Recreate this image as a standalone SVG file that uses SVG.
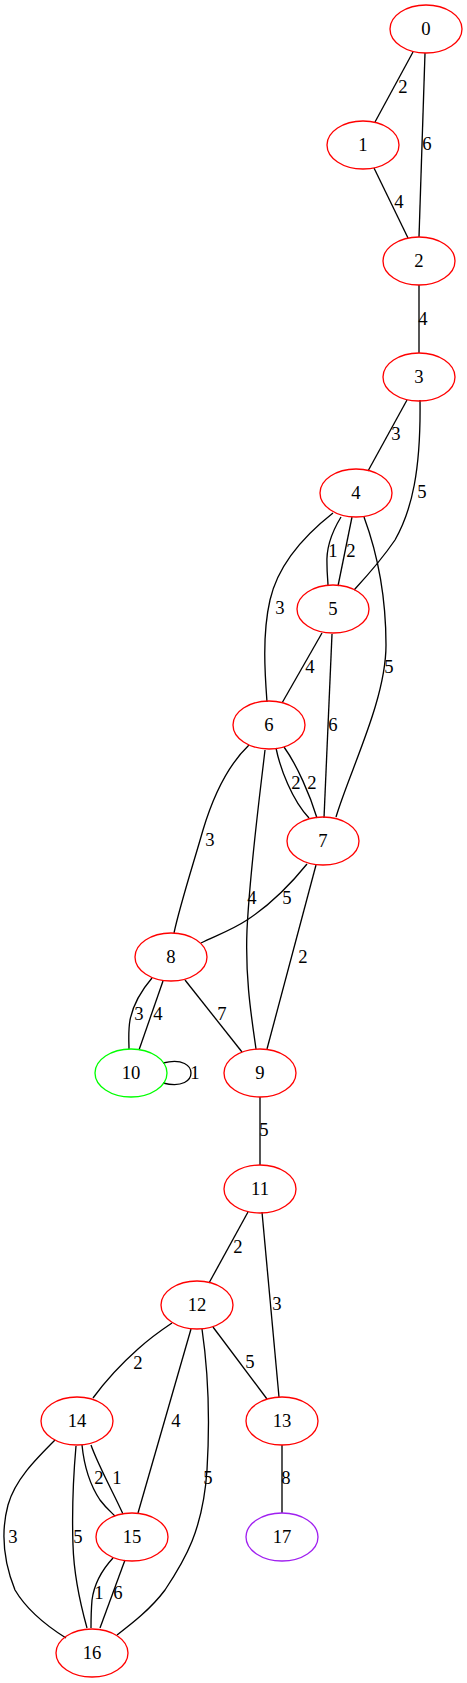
<svg xmlns="http://www.w3.org/2000/svg" width="467" height="1683" viewBox="0 0 467 1683">
<style>
.e{fill:none;stroke:#000;stroke-width:1.33}
.n{fill:none;stroke:#ff0000;stroke-width:1.33}
text{font-family:"Liberation Serif","Times New Roman",serif;font-size:18.67px;text-anchor:middle;fill:#000}
</style>
<rect width="467" height="1683" fill="#fff"/>
<g id="edges">
<path class="e" d="M413,52 L375,122"/><text x="403" y="93">2</text>
<path class="e" d="M425,53 L419,237"/><text x="427" y="150">6</text>
<path class="e" d="M374,168 L408,238"/><text x="399" y="208">4</text>
<path class="e" d="M419,285 L419,353"/><text x="423" y="325">4</text>
<path class="e" d="M407,400 L368,471"/><text x="396" y="440">3</text>
<path class="e" d="M420,400 C421,470 412,510 395,540 C380,562 366,577 354,590"/><text x="422" y="498">5</text>
<path class="e" d="M341,517 C330,535 326,550 327,565 C327,575 328,580 328,586"/><text x="333" y="557">1</text>
<path class="e" d="M352,517 L338,586"/><text x="351" y="557">2</text>
<path class="e" d="M333,513 C305,535 278,565 270,600 C262,635 265,675 267,702"/><text x="280" y="614">3</text>
<path class="e" d="M364,517 C378,555 386,600 386,645 C386,700 350,770 336,817"/><text x="389" y="673">5</text>
<path class="e" d="M322,633 L282,703"/><text x="310" y="673">4</text>
<path class="e" d="M332,634 L324,818"/><text x="333" y="731">6</text>
<path class="e" d="M276,748 C280,768 292,800 309,818"/><text x="296" y="789">2</text>
<path class="e" d="M284,747 C297,765 310,795 317,818"/><text x="312" y="789">2</text>
<path class="e" d="M249,745 C225,768 212,800 203,830 C193,865 180,905 174,933"/><text x="210" y="846">3</text>
<path class="e" d="M265,750 C258,810 250,870 247,930 C245,980 252,1020 256,1049"/><text x="252" y="904">4</text>
<path class="e" d="M307,864 C290,885 270,905 247,920 C232,930 215,936 201,943"/><text x="287" y="904">5</text>
<path class="e" d="M316,865 L267,1049"/><text x="303" y="963">2</text>
<path class="e" d="M185,980 L242,1052"/><text x="222" y="1020">7</text>
<path class="e" d="M152,978 C140,992 133,1005 130,1020 C128,1032 129,1042 129,1049"/><text x="139" y="1020">3</text>
<path class="e" d="M163,981 L139,1050"/><text x="158" y="1020">4</text>
<path class="e" d="M163,1063 C183,1058 191,1066 191,1073 C191,1080 183,1088 163,1083"/><text x="195" y="1079">1</text>
<path class="e" d="M260,1097 L260,1165"/><text x="264" y="1136">5</text>
<path class="e" d="M248,1212 L209,1283"/><text x="238" y="1253">2</text>
<path class="e" d="M262,1212 L279,1397"/><text x="277" y="1310">3</text>
<path class="e" d="M213,1327 L267,1399"/><text x="250" y="1368">5</text>
<path class="e" d="M172,1323 C160,1331 148,1340 138,1349 C120,1365 104,1383 93,1398"/><text x="138" y="1369">2</text>
<path class="e" d="M191,1329 L138,1513"/><text x="176" y="1427">4</text>
<path class="e" d="M202,1329 C208,1370 210,1420 207,1470 C203,1530 185,1560 165,1590 C150,1610 130,1625 117,1635"/><text x="208" y="1484">5</text>
<path class="e" d="M282,1445 L282,1513"/><text x="286" y="1484">8</text>
<path class="e" d="M82,1445 C84,1465 90,1485 100,1500 C106,1508 111,1512 115,1516"/><text x="99" y="1484">2</text>
<path class="e" d="M91,1445 C98,1465 112,1490 123,1514"/><text x="117" y="1484">1</text>
<path class="e" d="M55,1440 C35,1460 15,1480 8,1505 C0,1535 5,1565 15,1590 C28,1612 50,1628 66,1638"/><text x="13" y="1543">3</text>
<path class="e" d="M76,1446 C73,1480 72,1515 73,1545 C74,1580 82,1610 87,1628"/><text x="78" y="1543">5</text>
<path class="e" d="M113,1558 C100,1572 94,1585 92,1600 C91,1612 91,1620 91,1628"/><text x="99" y="1599">1</text>
<path class="e" d="M125,1560 L100,1628"/><text x="118" y="1599">6</text>
</g>
<g id="n0"><ellipse class="n" cx="426" cy="29" rx="36" ry="24"/><text x="426" y="35">0</text></g>
<g id="n1"><ellipse class="n" cx="363" cy="145" rx="36" ry="24"/><text x="363" y="151">1</text></g>
<g id="n2"><ellipse class="n" cx="419" cy="261" rx="36" ry="24"/><text x="419" y="267">2</text></g>
<g id="n3"><ellipse class="n" cx="419" cy="377" rx="36" ry="24"/><text x="419" y="383">3</text></g>
<g id="n4"><ellipse class="n" cx="356" cy="493" rx="36" ry="24"/><text x="356" y="499">4</text></g>
<g id="n5"><ellipse class="n" cx="333" cy="609" rx="36" ry="24"/><text x="333" y="615">5</text></g>
<g id="n6"><ellipse class="n" cx="269" cy="725" rx="36" ry="24"/><text x="269" y="731">6</text></g>
<g id="n7"><ellipse class="n" cx="323" cy="841" rx="36" ry="24"/><text x="323" y="847">7</text></g>
<g id="n8"><ellipse class="n" cx="171" cy="957" rx="36" ry="24"/><text x="171" y="963">8</text></g>
<g id="n9"><ellipse class="n" cx="260" cy="1073" rx="36" ry="24"/><text x="260" y="1079">9</text></g>
<g id="n10"><ellipse class="n" cx="131" cy="1073" rx="36" ry="24" style="stroke:#00ff00"/><text x="131" y="1079">10</text></g>
<g id="n11"><ellipse class="n" cx="260" cy="1189" rx="36" ry="24"/><text x="260" y="1195">11</text></g>
<g id="n12"><ellipse class="n" cx="197" cy="1305" rx="36" ry="24"/><text x="197" y="1311">12</text></g>
<g id="n13"><ellipse class="n" cx="282" cy="1421" rx="36" ry="24"/><text x="282" y="1427">13</text></g>
<g id="n14"><ellipse class="n" cx="77" cy="1421" rx="36" ry="24"/><text x="77" y="1427">14</text></g>
<g id="n15"><ellipse class="n" cx="132" cy="1537" rx="36" ry="24"/><text x="132" y="1543">15</text></g>
<g id="n16"><ellipse class="n" cx="92" cy="1653" rx="36" ry="24"/><text x="92" y="1659">16</text></g>
<g id="n17"><ellipse class="n" cx="282" cy="1537" rx="36" ry="24" style="stroke:#a020f0"/><text x="282" y="1543">17</text></g>
</svg>
